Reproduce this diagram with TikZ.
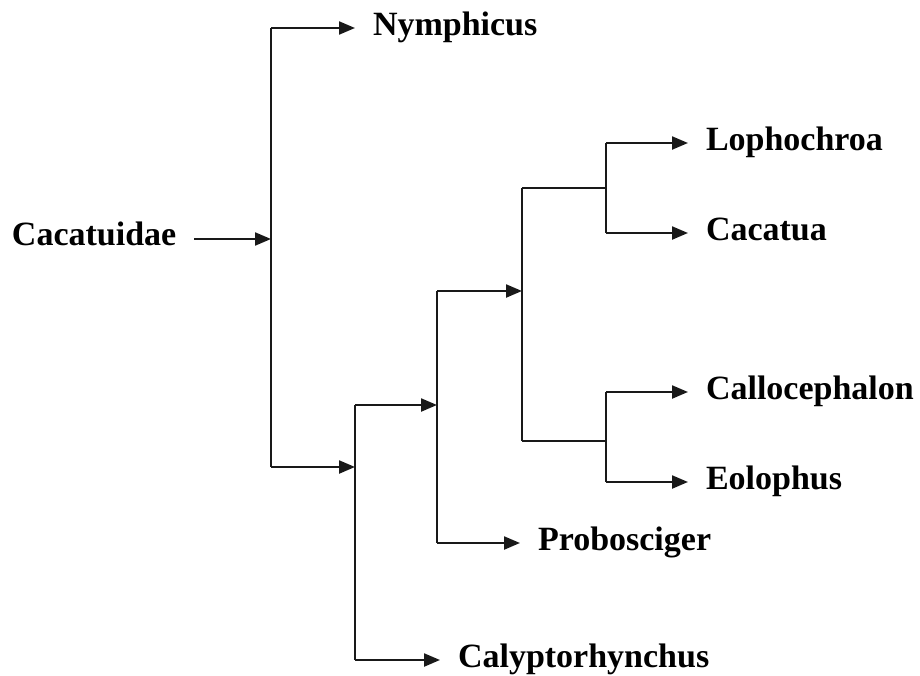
\documentclass[tikz,border=0pt]{standalone}
\usepackage{fontspec}
\setmainfont{Liberation Serif}
\usetikzlibrary{arrows.meta}
\begin{document}
\begin{tikzpicture}[x=1pt,y=-1pt,
  lbl/.style={anchor=base west, inner sep=0pt, outer xsep=18pt, outer ysep=0pt,
              font=\fontsize{34}{40}\selectfont\bfseries},
  ln/.style={line width=2.2pt, draw=black!90},
  arr/.style={ln, -{Triangle[length=16pt,width=13pt]}}]
\useasboundingbox (0,0) rectangle (920,675);
% labels (tip x, line y + 7)
\node[lbl] (root) at (-6,245) {Cacatuidae};
\node[lbl] (nym) at (355,35) {Nymphicus};
\node[lbl] (lop) at (688,150) {Lophochroa};
\node[lbl] (cac) at (688,240) {Cacatua};
\node[lbl] (cal) at (688,399) {Callocephalon};
\node[lbl] (eol) at (688,489) {Eolophus};
\node[lbl] (pro) at (520,550) {Probosciger};
\node[lbl] (caly) at (440,667) {Calyptorhynchus};
% junction coordinates
\coordinate (r0) at (root.east |- 0,239);
\coordinate (j1) at (271,239);
\coordinate (j1t) at (271,28);
\coordinate (j1b) at (271,467);
\coordinate (j2) at (355,467);
\coordinate (j2t) at (355,405);
\coordinate (j2b) at (355,660);
\coordinate (j3) at (437,405);
\coordinate (j3t) at (437,291);
\coordinate (j3b) at (437,543);
\coordinate (j4) at (522,291);
\coordinate (j4t) at (522,188);
\coordinate (j4b) at (522,441);
\coordinate (j5) at (606,188);
\coordinate (j5t) at (606,143);
\coordinate (j5b) at (606,233);
\coordinate (j6) at (606,441);
\coordinate (j6t) at (606,392);
\coordinate (j6b) at (606,482);
% root
\draw[arr] (r0) -- (j1);
\draw[ln] (j1t) -- (j1b);
\draw[arr] (j1t) -- (j1t -| nym.west);
\draw[arr] (j1b) -- (j2);
% level 2
\draw[ln] (j2t) -- (j2b);
\draw[arr] (j2t) -- (j3);
\draw[arr] (j2b) -- (j2b -| caly.west);
% level 3
\draw[ln] (j3t) -- (j3b);
\draw[arr] (j3t) -- (j4);
\draw[arr] (j3b) -- (j3b -| pro.west);
% level 4
\draw[ln] (j4t) -- (j4b);
\draw[ln] (j4t) -- (j5);
\draw[ln] (j4b) -- (j6);
% level 5
\draw[ln] (j5t) -- (j5b);
\draw[arr] (j5t) -- (j5t -| lop.west);
\draw[arr] (j5b) -- (j5b -| cac.west);
\draw[ln] (j6t) -- (j6b);
\draw[arr] (j6t) -- (j6t -| cal.west);
\draw[arr] (j6b) -- (j6b -| eol.west);
\end{tikzpicture}
\end{document}
